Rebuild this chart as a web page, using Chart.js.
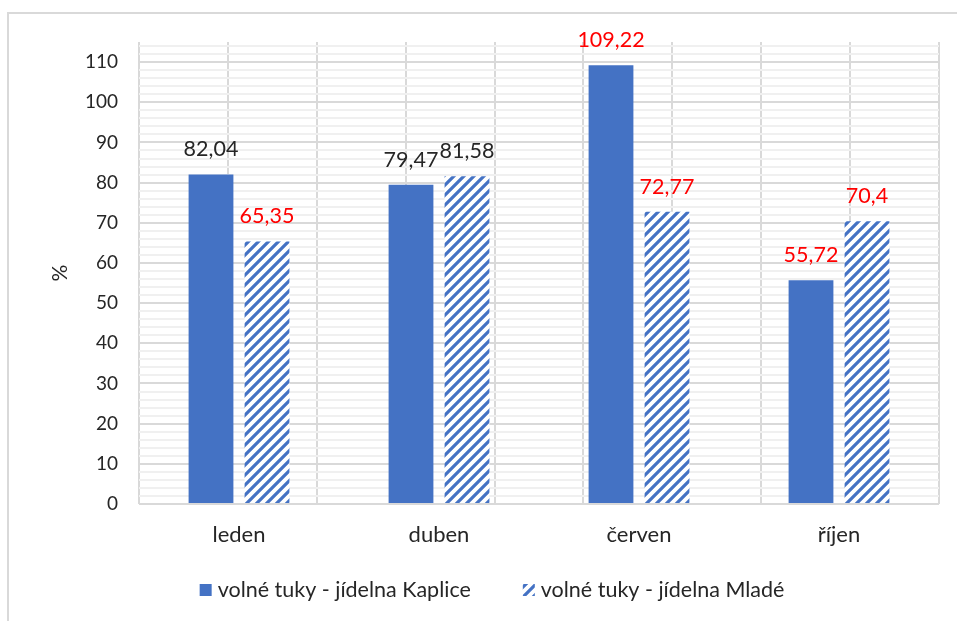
<!DOCTYPE html>
<html>
<head>
<meta charset="utf-8">
<script src="https://cdn.jsdelivr.net/npm/chart.js@4.4.0/dist/chart.umd.min.js"></script>
<style>
  html, body { margin: 0; padding: 0; background: #fff; }
  canvas { display: block; }
</style>
</head>
<body>
<canvas id="chart1" width="957" height="621"></canvas>
<script>
// data
const months = ['leden', 'duben', 'červen', 'říjen'];
const kaplice = [82.04, 79.47, 109.22, 55.72];
const mlade = [65.35, 81.58, 72.77, 70.4];
const seriesNames = ['volné tuky - jídelna Kaplice', 'volné tuky - jídelna Mladé'];
// label colours as in the original (some values are red)
const kapliceLabelColors = ['#262626', '#262626', '#ff0000', '#ff0000'];
const mladeLabelColors = ['#ff0000', '#262626', '#ff0000', '#ff0000'];
const yTicks = [0, 10, 20, 30, 40, 50, 60, 70, 80, 90, 100, 110];
const yMin = 0;
const yMax = 115;
const yMinorStep = 2;

const BLUE = '#4472c4';
const FONT = 'Lato';

// wide upward diagonal hatch
function makeHatch() {
  const s = 10;
  const c = document.createElement('canvas');
  c.width = s; c.height = s;
  const g = c.getContext('2d');
  g.fillStyle = '#fff';
  g.fillRect(0, 0, s, s);
  g.strokeStyle = BLUE;
  g.lineWidth = 3.2;
  g.beginPath();
  g.moveTo(-s / 2, s / 2); g.lineTo(s / 2, -s / 2);
  g.moveTo(0, s); g.lineTo(s, 0);
  g.moveTo(s / 2, s * 1.5); g.lineTo(s * 1.5, s / 2);
  g.stroke();
  return g.createPattern(c, 'repeat');
}
const hatch = makeHatch();

const frame = {
  id: 'frame',
  beforeDraw(chart) {
    const ctx = chart.ctx;
    ctx.save();
    ctx.strokeStyle = '#d9d9d9';
    ctx.lineWidth = 2;
    ctx.strokeRect(8, 13, 990, 700);
    ctx.restore();
  }
};

const valueLabels = {
  id: 'valueLabels',
  afterDatasetsDraw(chart) {
    const ctx = chart.ctx;
    const colors = [kapliceLabelColors, mladeLabelColors];
    ctx.save();
    ctx.font = '21.5px ' + FONT;
    ctx.textAlign = 'center';
    ctx.textBaseline = 'middle';
    chart.data.datasets.forEach((ds, di) => {
      chart.getDatasetMeta(di).data.forEach((bar, i) => {
        ctx.fillStyle = colors[di][i];
        ctx.fillText(String(ds.data[i]).replace('.', ','), bar.x, bar.y - 25);
      });
    });
    ctx.restore();
  }
};

const bottomLegend = {
  id: 'bottomLegend',
  afterDraw(chart) {
    const ctx = chart.ctx;
    ctx.save();
    ctx.font = '21.5px ' + FONT;
    ctx.textBaseline = 'middle';
    const box = 12, gap = 6, between = 52, cy = 590;
    const w = seriesNames.map(t => ctx.measureText(t).width);
    const total = box * 2 + gap * 2 + w[0] + w[1] + between;
    let x = 492 - total / 2;
    chart.data.datasets.forEach((ds, i) => {
      ctx.fillStyle = ds.backgroundColor;
      ctx.fillRect(x, cy - box / 2, box, box);
      ctx.fillStyle = '#262626';
      ctx.fillText(seriesNames[i], x + box + gap, cy);
      x += box + gap + w[i] + between;
    });
    ctx.restore();
  }
};

const chart1 = new Chart(document.getElementById('chart1'), {
  type: 'bar',
  data: {
    labels: months,
    datasets: [{
      label: seriesNames[0],
      data: kaplice,
      xAxisID: 'x',
      yAxisID: 'y',
      backgroundColor: BLUE,
      borderWidth: 0,
      categoryPercentage: 0.56,
      barPercentage: 0.8
    }, {
      label: seriesNames[1],
      data: mlade,
      xAxisID: 'x',
      yAxisID: 'y',
      backgroundColor: hatch,
      borderWidth: 0,
      categoryPercentage: 0.56,
      barPercentage: 0.8
    }]
  },
  options: {
    responsive: false,
    animation: false,
    layout: {
      padding: { left: 48, top: 42, right: 18, bottom: 0 }
    },
    plugins: {
      legend: { display: false },
      tooltip: { enabled: false }
    },
    scales: {
      x2: {
        type: 'linear',
        position: 'bottom',
        min: 0,
        max: 8,
        z: -1,
        ticks: { display: false, stepSize: 1 },
        grid: { color: '#d9d9d9', lineWidth: 2, drawTicks: false },
        border: { display: false },
        afterFit(s) { s.height = 0; }
      },
      y2: {
        type: 'linear',
        position: 'left',
        min: yMin,
        max: yMax,
        z: -1,
        ticks: { display: false },
        grid: { color: '#f0f0f0', lineWidth: 2, drawTicks: false },
        border: { display: false },
        afterBuildTicks(s) {
          const t = [];
          for (let v = yMin; v < yMax; v += yMinorStep) t.push({ value: v });
          s.ticks = t;
        },
        afterFit(s) { s.width = 0; }
      },
      x: {
        grid: { display: false, drawTicks: false },
        border: { display: false },
        ticks: {
          color: '#262626',
          font: { family: FONT, size: 22 },
          padding: 18
        },
        afterFit(s) { s.height = 621 - 504; }
      },
      y: {
        min: yMin,
        max: yMax,
        afterBuildTicks(s) { s.ticks = yTicks.map(v => ({ value: v })); },
        ticks: {
          color: '#262626',
          font: { family: FONT, size: 19 },
          padding: 21
        },
        grid: { color: '#d9d9d9', lineWidth: 2, drawTicks: false },
        border: { display: false },
        title: {
          display: true,
          text: '%',
          color: '#262626',
          font: { family: FONT, size: 21 },
          padding: { top: 0, bottom: 0 }
        },
        afterFit(s) { s.width = 139 - 48; }
      }
    }
  },
  plugins: [frame, valueLabels, bottomLegend]
});
</script>
</body>
</html>
